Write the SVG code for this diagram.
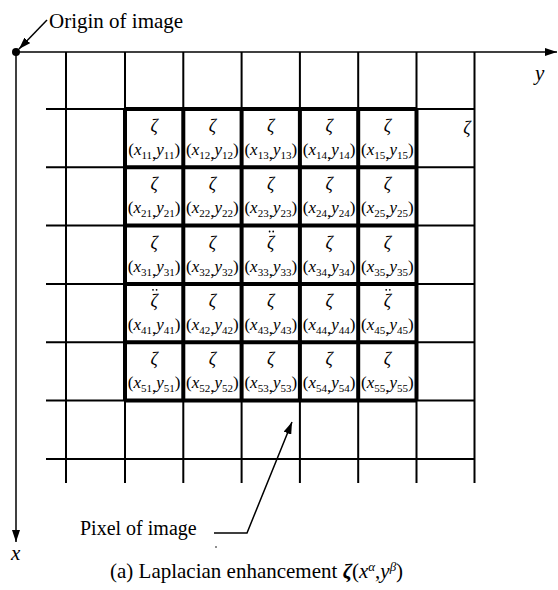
<svg xmlns="http://www.w3.org/2000/svg" width="558" height="590" viewBox="0 0 558 590">
<defs>
<marker id="ah" viewBox="0 0 12 8" refX="12" refY="4" markerWidth="12" markerHeight="8" markerUnits="userSpaceOnUse" orient="auto">
<path d="M0,0 L12,4 L0,8 Z" fill="#000"/>
</marker>
</defs>
<style>
.thin{stroke:#000;stroke-width:2;fill:none}
.thick{stroke:#000;stroke-width:4;fill:none}
.ln{stroke:#000;stroke-width:1.5;fill:none}
.dot{fill:#000}
text{font-family:"Liberation Serif","Times New Roman",serif;fill:#000}
.z{font-size:18px;font-style:italic;text-anchor:middle}
.co{font-size:17px;text-anchor:middle}
.i{font-style:italic}
.s{font-size:11px}
.lbl{font-size:21px}
</style>
<rect width="558" height="590" fill="#fff"/>
<g id="grid">
<path class="thin" d="M46,109H474.5M46,167.3H474.5M46,225.6H474.5M46,283.9H474.5M46,342.2H474.5M46,400.5H474.5M46,459H474.5"/>
<path class="thin" d="M66,52V483M125,52V483M183.3,52V483M241.6,52V483M299.9,52V483M358.2,52V483M416.5,52V483M474.5,52V483"/>
<path class="thick" d="M125,109H416.5M125,167.3H416.5M125,225.6H416.5M125,283.9H416.5M125,342.2H416.5M125,400.5H416.5M125,109V400.5M183.3,109V400.5M241.6,109V400.5M299.9,109V400.5M358.2,109V400.5M416.5,109V400.5"/>
</g>
<g id="axes">
<circle cx="16" cy="52" r="4" fill="#000"/>
<line class="ln" x1="16" y1="52" x2="557" y2="52" marker-end="url(#ah)"/>
<line class="ln" x1="16" y1="52" x2="16" y2="542" marker-end="url(#ah)"/>
<text class="lbl i" x="535" y="80">y</text>
<text class="lbl i" x="11" y="560">x</text>
</g>
<g id="c11"><text class="z" x="154.15" y="132">ζ</text><text class="co" x="154.15" y="155">(<tspan class="i">x</tspan><tspan class="s" dy="4">11</tspan>,<tspan class="i" dy="-4">y</tspan><tspan class="s" dy="4">11</tspan><tspan dy="-4">)</tspan></text></g>
<g id="c12"><text class="z" x="212.45" y="132">ζ</text><text class="co" x="212.45" y="155">(<tspan class="i">x</tspan><tspan class="s" dy="4">12</tspan>,<tspan class="i" dy="-4">y</tspan><tspan class="s" dy="4">12</tspan><tspan dy="-4">)</tspan></text></g>
<g id="c13"><text class="z" x="270.75" y="132">ζ</text><text class="co" x="270.75" y="155">(<tspan class="i">x</tspan><tspan class="s" dy="4">13</tspan>,<tspan class="i" dy="-4">y</tspan><tspan class="s" dy="4">13</tspan><tspan dy="-4">)</tspan></text></g>
<g id="c14"><text class="z" x="329.05" y="132">ζ</text><text class="co" x="329.05" y="155">(<tspan class="i">x</tspan><tspan class="s" dy="4">14</tspan>,<tspan class="i" dy="-4">y</tspan><tspan class="s" dy="4">14</tspan><tspan dy="-4">)</tspan></text></g>
<g id="c15"><text class="z" x="387.35" y="132">ζ</text><text class="co" x="387.35" y="155">(<tspan class="i">x</tspan><tspan class="s" dy="4">15</tspan>,<tspan class="i" dy="-4">y</tspan><tspan class="s" dy="4">15</tspan><tspan dy="-4">)</tspan></text></g>
<g id="c21"><text class="z" x="154.15" y="190.3">ζ</text><text class="co" x="154.15" y="213.3">(<tspan class="i">x</tspan><tspan class="s" dy="4">21</tspan>,<tspan class="i" dy="-4">y</tspan><tspan class="s" dy="4">21</tspan><tspan dy="-4">)</tspan></text></g>
<g id="c22"><text class="z" x="212.45" y="190.3">ζ</text><text class="co" x="212.45" y="213.3">(<tspan class="i">x</tspan><tspan class="s" dy="4">22</tspan>,<tspan class="i" dy="-4">y</tspan><tspan class="s" dy="4">22</tspan><tspan dy="-4">)</tspan></text></g>
<g id="c23"><text class="z" x="270.75" y="190.3">ζ</text><text class="co" x="270.75" y="213.3">(<tspan class="i">x</tspan><tspan class="s" dy="4">23</tspan>,<tspan class="i" dy="-4">y</tspan><tspan class="s" dy="4">23</tspan><tspan dy="-4">)</tspan></text></g>
<g id="c24"><text class="z" x="329.05" y="190.3">ζ</text><text class="co" x="329.05" y="213.3">(<tspan class="i">x</tspan><tspan class="s" dy="4">24</tspan>,<tspan class="i" dy="-4">y</tspan><tspan class="s" dy="4">24</tspan><tspan dy="-4">)</tspan></text></g>
<g id="c25"><text class="z" x="387.35" y="190.3">ζ</text><text class="co" x="387.35" y="213.3">(<tspan class="i">x</tspan><tspan class="s" dy="4">25</tspan>,<tspan class="i" dy="-4">y</tspan><tspan class="s" dy="4">25</tspan><tspan dy="-4">)</tspan></text></g>
<g id="c31"><text class="z" x="154.15" y="248.6">ζ</text><text class="co" x="154.15" y="271.6">(<tspan class="i">x</tspan><tspan class="s" dy="4">31</tspan>,<tspan class="i" dy="-4">y</tspan><tspan class="s" dy="4">31</tspan><tspan dy="-4">)</tspan></text></g>
<g id="c32"><text class="z" x="212.45" y="248.6">ζ</text><text class="co" x="212.45" y="271.6">(<tspan class="i">x</tspan><tspan class="s" dy="4">32</tspan>,<tspan class="i" dy="-4">y</tspan><tspan class="s" dy="4">32</tspan><tspan dy="-4">)</tspan></text></g>
<g id="c33"><circle class="dot" cx="269.6" cy="231.5" r="0.9"/><circle class="dot" cx="273.2" cy="231.5" r="0.9"/><text class="z" x="270.75" y="248.6">ζ</text><text class="co" x="270.75" y="271.6">(<tspan class="i">x</tspan><tspan class="s" dy="4">33</tspan>,<tspan class="i" dy="-4">y</tspan><tspan class="s" dy="4">33</tspan><tspan dy="-4">)</tspan></text></g>
<g id="c34"><text class="z" x="329.05" y="248.6">ζ</text><text class="co" x="329.05" y="271.6">(<tspan class="i">x</tspan><tspan class="s" dy="4">34</tspan>,<tspan class="i" dy="-4">y</tspan><tspan class="s" dy="4">34</tspan><tspan dy="-4">)</tspan></text></g>
<g id="c35"><text class="z" x="387.35" y="248.6">ζ</text><text class="co" x="387.35" y="271.6">(<tspan class="i">x</tspan><tspan class="s" dy="4">35</tspan>,<tspan class="i" dy="-4">y</tspan><tspan class="s" dy="4">35</tspan><tspan dy="-4">)</tspan></text></g>
<g id="c41"><circle class="dot" cx="153" cy="289.8" r="0.9"/><circle class="dot" cx="156.6" cy="289.8" r="0.9"/><text class="z" x="154.15" y="306.9">ζ</text><text class="co" x="154.15" y="329.9">(<tspan class="i">x</tspan><tspan class="s" dy="4">41</tspan>,<tspan class="i" dy="-4">y</tspan><tspan class="s" dy="4">41</tspan><tspan dy="-4">)</tspan></text></g>
<g id="c42"><text class="z" x="212.45" y="306.9">ζ</text><text class="co" x="212.45" y="329.9">(<tspan class="i">x</tspan><tspan class="s" dy="4">42</tspan>,<tspan class="i" dy="-4">y</tspan><tspan class="s" dy="4">42</tspan><tspan dy="-4">)</tspan></text></g>
<g id="c43"><text class="z" x="270.75" y="306.9">ζ</text><text class="co" x="270.75" y="329.9">(<tspan class="i">x</tspan><tspan class="s" dy="4">43</tspan>,<tspan class="i" dy="-4">y</tspan><tspan class="s" dy="4">43</tspan><tspan dy="-4">)</tspan></text></g>
<g id="c44"><text class="z" x="329.05" y="306.9">ζ</text><text class="co" x="329.05" y="329.9">(<tspan class="i">x</tspan><tspan class="s" dy="4">44</tspan>,<tspan class="i" dy="-4">y</tspan><tspan class="s" dy="4">44</tspan><tspan dy="-4">)</tspan></text></g>
<g id="c45"><circle class="dot" cx="386.2" cy="289.8" r="0.9"/><circle class="dot" cx="389.8" cy="289.8" r="0.9"/><text class="z" x="387.35" y="306.9">ζ</text><text class="co" x="387.35" y="329.9">(<tspan class="i">x</tspan><tspan class="s" dy="4">45</tspan>,<tspan class="i" dy="-4">y</tspan><tspan class="s" dy="4">45</tspan><tspan dy="-4">)</tspan></text></g>
<g id="c51"><text class="z" x="154.15" y="365.2">ζ</text><text class="co" x="154.15" y="388.2">(<tspan class="i">x</tspan><tspan class="s" dy="4">51</tspan>,<tspan class="i" dy="-4">y</tspan><tspan class="s" dy="4">51</tspan><tspan dy="-4">)</tspan></text></g>
<g id="c52"><text class="z" x="212.45" y="365.2">ζ</text><text class="co" x="212.45" y="388.2">(<tspan class="i">x</tspan><tspan class="s" dy="4">52</tspan>,<tspan class="i" dy="-4">y</tspan><tspan class="s" dy="4">52</tspan><tspan dy="-4">)</tspan></text></g>
<g id="c53"><text class="z" x="270.75" y="365.2">ζ</text><text class="co" x="270.75" y="388.2">(<tspan class="i">x</tspan><tspan class="s" dy="4">53</tspan>,<tspan class="i" dy="-4">y</tspan><tspan class="s" dy="4">53</tspan><tspan dy="-4">)</tspan></text></g>
<g id="c54"><text class="z" x="329.05" y="365.2">ζ</text><text class="co" x="329.05" y="388.2">(<tspan class="i">x</tspan><tspan class="s" dy="4">54</tspan>,<tspan class="i" dy="-4">y</tspan><tspan class="s" dy="4">54</tspan><tspan dy="-4">)</tspan></text></g>
<g id="c55"><text class="z" x="387.35" y="365.2">ζ</text><text class="co" x="387.35" y="388.2">(<tspan class="i">x</tspan><tspan class="s" dy="4">55</tspan>,<tspan class="i" dy="-4">y</tspan><tspan class="s" dy="4">55</tspan><tspan dy="-4">)</tspan></text></g>
<g id="c16"><text class="z" x="467" y="134">ζ</text></g>
<g id="origin-label"><text class="lbl" x="49" y="28">Origin of image</text></g>
<g id="pixel-label"><text class="lbl" x="80" y="535" style="font-size:20px">Pixel of image</text></g>
<g id="connectors">
<line class="ln" x1="47" y1="20" x2="19" y2="49" marker-end="url(#ah)"/>
<polyline class="ln" points="214,533 247,533 292,422" marker-end="url(#ah)"/>
</g>
<circle cx="216" cy="547" r="0.8" fill="#000"/>
<g id="caption"><text class="lbl" x="110" y="578">(a) Laplacian enhancement <tspan font-weight="bold" font-style="italic">ζ</tspan>(<tspan class="i">x</tspan><tspan style="font-size:13px" class="i" dy="-7">α</tspan><tspan dy="7">,</tspan><tspan class="i">y</tspan><tspan style="font-size:13px" class="i" dy="-7">β</tspan><tspan dy="7">)</tspan></text></g>
</svg>
